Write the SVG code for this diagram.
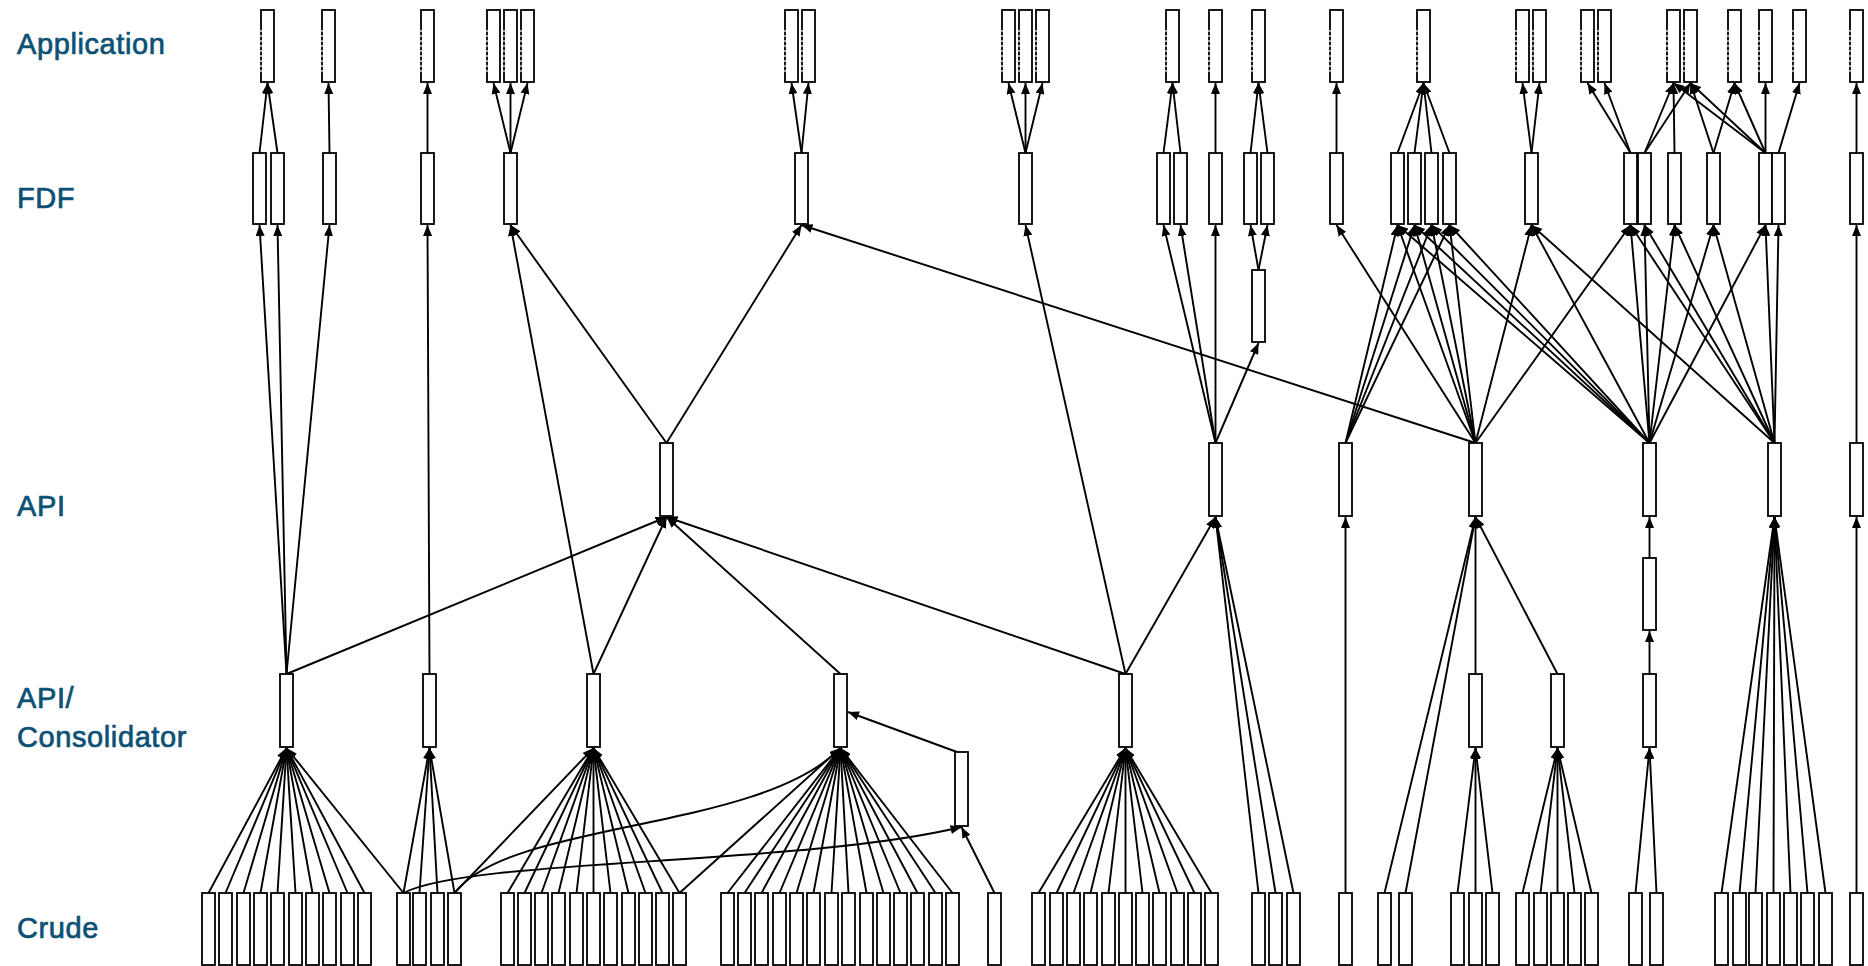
<svg xmlns="http://www.w3.org/2000/svg" width="1868" height="966" viewBox="0 0 1868 966">
<style>
.lbl{font-family:"Liberation Sans",Arial,sans-serif;font-size:29px;fill:#0c5174;stroke:#0c5174;stroke-width:0.7px;letter-spacing:0.6px}
.n rect{fill:#fff;stroke:#000;stroke-width:1.8}
.n line{stroke:#fff;stroke-width:1.2;stroke-dasharray:2 3}
#connectors path{fill:none;stroke:#000;stroke-width:1.9;marker-end:url(#ah)}
</style>
<defs>
<marker id="ah" viewBox="0 0 11 9" refX="11" refY="4.5" markerWidth="11" markerHeight="9" markerUnits="userSpaceOnUse" orient="auto"><path d="M0,0 L11,4.5 L0,9 z" fill="#000"/></marker>
</defs>
<rect width="1868" height="966" fill="#fff"/>
<g id="labels">
<text class="lbl" x="17" y="54">Application</text>
<text class="lbl" x="17" y="208">FDF</text>
<text class="lbl" x="17" y="516">API</text>
<text class="lbl" x="17" y="708">API/</text>
<text class="lbl" x="17" y="747">Consolidator</text>
<text class="lbl" x="17" y="938">Crude</text>
</g>
<g id="connectors">
<path d="M259.5,153L267.5,83"/><path d="M277.5,153L267.5,83"/><path d="M329.5,153L328.5,83"/><path d="M427.5,153L427.5,83"/>
<path d="M510.5,153L493.5,83"/><path d="M510.5,153L510.5,83"/><path d="M510.5,153L527.5,83"/>
<path d="M801.5,153L791.5,83"/><path d="M801.5,153L808.5,83"/>
<path d="M1025.5,153L1008.5,83"/><path d="M1025.5,153L1025.5,83"/><path d="M1025.5,153L1042.5,83"/>
<path d="M1163.5,153L1172.5,83"/><path d="M1180.5,153L1172.5,83"/><path d="M1215.5,153L1215.5,83"/>
<path d="M1250.5,153L1258.5,83"/><path d="M1267.5,153L1258.5,83"/><path d="M1336.5,153L1336.5,83"/>
<path d="M1397.5,153L1423.5,83"/><path d="M1414.5,153L1423.5,83"/><path d="M1431.5,153L1423.5,83"/><path d="M1449.5,153L1423.5,83"/>
<path d="M1531.5,153L1522.5,83"/><path d="M1531.5,153L1539.5,83"/>
<path d="M1630.5,153L1587.5,83"/><path d="M1630.5,153L1604.5,83"/>
<path d="M1644.5,153L1673.5,83"/><path d="M1644.5,153L1690.5,83"/><path d="M1674.5,153L1673.5,83"/>
<path d="M1713.5,153L1690.5,83"/><path d="M1713.5,153L1734.5,83"/>
<path d="M1765.5,153L1673.5,83"/><path d="M1765.5,153L1690.5,83"/><path d="M1765.5,153L1734.5,83"/><path d="M1765.5,153L1765.5,83"/>
<path d="M1778.5,153L1799.5,83"/><path d="M1856.5,153L1856.5,83"/>

<path d="M286.5,674L259.5,225"/><path d="M286.5,674L277.5,225"/><path d="M286.5,674L329.5,225"/><path d="M286.5,674L666.5,517"/>
<path d="M429.5,674L427.5,225"/>
<path d="M593.5,674L510.5,225"/><path d="M593.5,674L666.5,517"/>
<path d="M666.5,443L510.5,225"/><path d="M666.5,443L801.5,225"/>
<path d="M840.5,674L666.5,517"/>
<path d="M1125.5,674L666.5,517"/><path d="M1125.5,674L1025.5,225"/><path d="M1125.5,674L1215.5,517"/>
<path d="M1215.5,443L1163.5,225"/><path d="M1215.5,443L1180.5,225"/><path d="M1215.5,443L1215.5,225"/><path d="M1215.5,443L1258.5,343"/>
<path d="M1258.5,270L1250.5,225"/><path d="M1258.5,270L1267.5,225"/>
<path d="M1345.5,443L1397.5,225"/><path d="M1345.5,443L1414.5,225"/><path d="M1345.5,443L1431.5,225"/><path d="M1345.5,443L1449.5,225"/>
<path d="M1475.5,443L801.5,225"/><path d="M1475.5,443L1336.5,225"/><path d="M1475.5,443L1397.5,225"/><path d="M1475.5,443L1414.5,225"/><path d="M1475.5,443L1431.5,225"/><path d="M1475.5,443L1449.5,225"/><path d="M1475.5,443L1531.5,225"/><path d="M1475.5,443L1630.5,225"/>
<path d="M1649.5,443L1397.5,225"/><path d="M1649.5,443L1414.5,225"/><path d="M1649.5,443L1431.5,225"/><path d="M1649.5,443L1449.5,225"/><path d="M1649.5,443L1531.5,225"/><path d="M1649.5,443L1630.5,225"/><path d="M1649.5,443L1644.5,225"/><path d="M1649.5,443L1674.5,225"/><path d="M1649.5,443L1713.5,225"/><path d="M1649.5,443L1765.5,225"/>
<path d="M1774.5,443L1531.5,225"/><path d="M1774.5,443L1630.5,225"/><path d="M1774.5,443L1644.5,225"/><path d="M1774.5,443L1674.5,225"/><path d="M1774.5,443L1713.5,225"/><path d="M1774.5,443L1765.5,225"/><path d="M1774.5,443L1778.5,225"/>
<path d="M1856.5,443L1856.5,225"/>

<path d="M208.5,893L286.5,748"/><path d="M225.5,893L286.5,748"/><path d="M243.5,893L286.5,748"/><path d="M260.5,893L286.5,748"/><path d="M277.5,893L286.5,748"/><path d="M295.5,893L286.5,748"/><path d="M312.5,893L286.5,748"/><path d="M329.5,893L286.5,748"/><path d="M347.5,893L286.5,748"/><path d="M364.5,893L286.5,748"/><path d="M403.5,893L286.5,748"/>
<path d="M403.5,893L429.5,748"/><path d="M419.5,893L429.5,748"/><path d="M437.5,893L429.5,748"/><path d="M454.5,893L429.5,748"/>
<path d="M454.5,893L593.5,748"/><path d="M507.5,893L593.5,748"/><path d="M524.5,893L593.5,748"/><path d="M541.5,893L593.5,748"/><path d="M558.5,893L593.5,748"/><path d="M576.5,893L593.5,748"/><path d="M593.5,893L593.5,748"/><path d="M610.5,893L593.5,748"/><path d="M628.5,893L593.5,748"/><path d="M645.5,893L593.5,748"/><path d="M662.5,893L593.5,748"/><path d="M679.5,893L593.5,748"/>
<path d="M679.5,893L840.5,748"/><path d="M727.5,893L840.5,748"/><path d="M744.5,893L840.5,748"/><path d="M761.5,893L840.5,748"/><path d="M779.5,893L840.5,748"/><path d="M796.5,893L840.5,748"/><path d="M813.5,893L840.5,748"/><path d="M831.5,893L840.5,748"/><path d="M848.5,893L840.5,748"/><path d="M866.5,893L840.5,748"/><path d="M883.5,893L840.5,748"/><path d="M900.5,893L840.5,748"/><path d="M917.5,893L840.5,748"/><path d="M935.5,893L840.5,748"/><path d="M952.5,893L840.5,748"/>
<path d="M454.5,893C510,820 760,832 840.5,748"/>
<path d="M403.5,893C470,858 800,866 961.5,827"/>
<path d="M994.5,893L961.5,827"/>
<path d="M957,752L848,712"/>
<path d="M1038.5,893L1125.5,748"/><path d="M1056.5,893L1125.5,748"/><path d="M1073.5,893L1125.5,748"/><path d="M1090.5,893L1125.5,748"/><path d="M1108.5,893L1125.5,748"/><path d="M1125.5,893L1125.5,748"/><path d="M1142.5,893L1125.5,748"/><path d="M1159.5,893L1125.5,748"/><path d="M1177.5,893L1125.5,748"/><path d="M1194.5,893L1125.5,748"/><path d="M1211.5,893L1125.5,748"/>
<path d="M1258.5,893L1215.5,517"/><path d="M1275.5,893L1215.5,517"/><path d="M1293.5,893L1215.5,517"/>
<path d="M1345.5,893L1345.5,517"/>
<path d="M1384.5,893L1475.5,517"/><path d="M1405.5,893L1475.5,517"/><path d="M1475.5,674L1475.5,517"/><path d="M1557.5,674L1475.5,517"/>
<path d="M1457.5,893L1475.5,748"/><path d="M1475.5,893L1475.5,748"/><path d="M1492.5,893L1475.5,748"/>
<path d="M1522.5,893L1557.5,748"/><path d="M1540.5,893L1557.5,748"/><path d="M1557.5,893L1557.5,748"/><path d="M1574.5,893L1557.5,748"/><path d="M1591.5,893L1557.5,748"/>
<path d="M1635.5,893L1649.5,748"/><path d="M1656.5,893L1649.5,748"/>
<path d="M1649.5,674L1649.5,631"/><path d="M1649.5,558L1649.5,517"/>
<path d="M1721.5,893L1774.5,517"/><path d="M1739.5,893L1774.5,517"/><path d="M1755.5,893L1774.5,517"/><path d="M1773.5,893L1774.5,517"/><path d="M1790.5,893L1774.5,517"/><path d="M1807.5,893L1774.5,517"/><path d="M1825.5,893L1774.5,517"/>
<path d="M1856.5,893L1856.5,517"/>
</g>
<g id="nodes" class="n">
<g id="app1"><rect x="261" y="10" width="13" height="72"/><line x1="261" y1="30" x2="261" y2="72"/></g>
<g id="app2"><rect x="322" y="10" width="13" height="72"/><line x1="322" y1="30" x2="322" y2="72"/></g>
<g id="app3"><rect x="421" y="10" width="13" height="72"/><line x1="421" y1="30" x2="421" y2="72"/></g>
<g id="app4"><rect x="487" y="10" width="13" height="72"/><line x1="487" y1="30" x2="487" y2="72"/></g>
<g id="app5"><rect x="504" y="10" width="13" height="72"/><line x1="504" y1="30" x2="504" y2="72"/></g>
<g id="app6"><rect x="521" y="10" width="13" height="72"/><line x1="521" y1="30" x2="521" y2="72"/></g>
<g id="app7"><rect x="785" y="10" width="13" height="72"/><line x1="785" y1="30" x2="785" y2="72"/></g>
<g id="app8"><rect x="802" y="10" width="13" height="72"/><line x1="802" y1="30" x2="802" y2="72"/></g>
<g id="app9"><rect x="1002" y="10" width="13" height="72"/><line x1="1002" y1="30" x2="1002" y2="72"/></g>
<g id="app10"><rect x="1019" y="10" width="13" height="72"/><line x1="1019" y1="30" x2="1019" y2="72"/></g>
<g id="app11"><rect x="1036" y="10" width="13" height="72"/><line x1="1036" y1="30" x2="1036" y2="72"/></g>
<g id="app12"><rect x="1166" y="10" width="13" height="72"/><line x1="1166" y1="30" x2="1166" y2="72"/></g>
<g id="app13"><rect x="1209" y="10" width="13" height="72"/><line x1="1209" y1="30" x2="1209" y2="72"/></g>
<g id="app14"><rect x="1252" y="10" width="13" height="72"/><line x1="1252" y1="30" x2="1252" y2="72"/></g>
<g id="app15"><rect x="1330" y="10" width="13" height="72"/><line x1="1330" y1="30" x2="1330" y2="72"/></g>
<g id="app16"><rect x="1417" y="10" width="13" height="72"/><line x1="1417" y1="30" x2="1417" y2="72"/></g>
<g id="app17"><rect x="1516" y="10" width="13" height="72"/><line x1="1516" y1="30" x2="1516" y2="72"/></g>
<g id="app18"><rect x="1533" y="10" width="13" height="72"/><line x1="1533" y1="30" x2="1533" y2="72"/></g>
<g id="app19"><rect x="1581" y="10" width="13" height="72"/><line x1="1581" y1="30" x2="1581" y2="72"/></g>
<g id="app20"><rect x="1598" y="10" width="13" height="72"/><line x1="1598" y1="30" x2="1598" y2="72"/></g>
<g id="app21"><rect x="1667" y="10" width="13" height="72"/><line x1="1667" y1="30" x2="1667" y2="72"/></g>
<g id="app22"><rect x="1684" y="10" width="13" height="72"/><line x1="1684" y1="30" x2="1684" y2="72"/></g>
<g id="app23"><rect x="1728" y="10" width="13" height="72"/><line x1="1728" y1="30" x2="1728" y2="72"/></g>
<g id="app24"><rect x="1759" y="10" width="13" height="72"/><line x1="1759" y1="30" x2="1759" y2="72"/></g>
<g id="app25"><rect x="1793" y="10" width="13" height="72"/><line x1="1793" y1="30" x2="1793" y2="72"/></g>
<g id="app26"><rect x="1850" y="10" width="13" height="72"/><line x1="1850" y1="30" x2="1850" y2="72"/></g>

<g id="fdf1"><rect x="253" y="153" width="13" height="71"/></g>
<g id="fdf2"><rect x="271" y="153" width="13" height="71"/></g>
<g id="fdf3"><rect x="323" y="153" width="13" height="71"/></g>
<g id="fdf4"><rect x="421" y="153" width="13" height="71"/></g>
<g id="fdf5"><rect x="504" y="153" width="13" height="71"/></g>
<g id="fdf6"><rect x="795" y="153" width="13" height="71"/></g>
<g id="fdf7"><rect x="1019" y="153" width="13" height="71"/></g>
<g id="fdf8"><rect x="1157" y="153" width="13" height="71"/></g>
<g id="fdf9"><rect x="1174" y="153" width="13" height="71"/></g>
<g id="fdf10"><rect x="1209" y="153" width="13" height="71"/></g>
<g id="fdf11"><rect x="1244" y="153" width="13" height="71"/></g>
<g id="fdf12"><rect x="1261" y="153" width="13" height="71"/></g>
<g id="fdf13"><rect x="1330" y="153" width="13" height="71"/></g>
<g id="fdf14"><rect x="1391" y="153" width="13" height="71"/></g>
<g id="fdf15"><rect x="1408" y="153" width="13" height="71"/></g>
<g id="fdf16"><rect x="1425" y="153" width="13" height="71"/></g>
<g id="fdf17"><rect x="1443" y="153" width="13" height="71"/></g>
<g id="fdf18"><rect x="1525" y="153" width="13" height="71"/></g>
<g id="fdf19"><rect x="1624" y="153" width="13" height="71"/></g>
<g id="fdf20"><rect x="1638" y="153" width="13" height="71"/></g>
<g id="fdf21"><rect x="1668" y="153" width="13" height="71"/></g>
<g id="fdf22"><rect x="1707" y="153" width="13" height="71"/></g>
<g id="fdf23"><rect x="1759" y="153" width="13" height="71"/></g>
<g id="fdf24"><rect x="1772" y="153" width="13" height="71"/></g>
<g id="fdf25"><rect x="1850" y="153" width="13" height="71"/></g>
<g id="fdf-x"><rect x="1252" y="270" width="13" height="72"/></g>

<g id="api1"><rect x="660" y="443" width="13" height="73"/></g>
<g id="api2"><rect x="1209" y="443" width="13" height="73"/></g>
<g id="api3"><rect x="1339" y="443" width="13" height="73"/></g>
<g id="api4"><rect x="1469" y="443" width="13" height="73"/></g>
<g id="api5"><rect x="1643" y="443" width="13" height="73"/></g>
<g id="api6"><rect x="1768" y="443" width="13" height="73"/></g>
<g id="api7"><rect x="1850" y="443" width="13" height="73"/></g>
<g id="api-x"><rect x="1643" y="558" width="13" height="72"/></g>

<g id="cons1"><rect x="280" y="674" width="13" height="73"/></g>
<g id="cons2"><rect x="423" y="674" width="13" height="73"/></g>
<g id="cons3"><rect x="587" y="674" width="13" height="73"/></g>
<g id="cons4"><rect x="834" y="674" width="13" height="73"/></g>
<g id="cons5"><rect x="1119" y="674" width="13" height="73"/></g>
<g id="cons6"><rect x="1469" y="674" width="13" height="73"/></g>
<g id="cons7"><rect x="1551" y="674" width="13" height="73"/></g>
<g id="cons8"><rect x="1643" y="674" width="13" height="73"/></g>
<g id="cons-x"><rect x="955" y="752" width="13" height="74"/></g>

<g id="crude1"><rect x="202" y="893" width="13" height="72"/></g>
<g id="crude2"><rect x="219" y="893" width="13" height="72"/></g>
<g id="crude3"><rect x="237" y="893" width="13" height="72"/></g>
<g id="crude4"><rect x="254" y="893" width="13" height="72"/></g>
<g id="crude5"><rect x="271" y="893" width="13" height="72"/></g>
<g id="crude6"><rect x="289" y="893" width="13" height="72"/></g>
<g id="crude7"><rect x="306" y="893" width="13" height="72"/></g>
<g id="crude8"><rect x="323" y="893" width="13" height="72"/></g>
<g id="crude9"><rect x="341" y="893" width="13" height="72"/></g>
<g id="crude10"><rect x="358" y="893" width="13" height="72"/></g>
<g id="crude11"><rect x="397" y="893" width="13" height="72"/></g>
<g id="crude12"><rect x="413" y="893" width="13" height="72"/></g>
<g id="crude13"><rect x="431" y="893" width="13" height="72"/></g>
<g id="crude14"><rect x="448" y="893" width="13" height="72"/></g>
<g id="crude15"><rect x="501" y="893" width="13" height="72"/></g>
<g id="crude16"><rect x="518" y="893" width="13" height="72"/></g>
<g id="crude17"><rect x="535" y="893" width="13" height="72"/></g>
<g id="crude18"><rect x="552" y="893" width="13" height="72"/></g>
<g id="crude19"><rect x="570" y="893" width="13" height="72"/></g>
<g id="crude20"><rect x="587" y="893" width="13" height="72"/></g>
<g id="crude21"><rect x="604" y="893" width="13" height="72"/></g>
<g id="crude22"><rect x="622" y="893" width="13" height="72"/></g>
<g id="crude23"><rect x="639" y="893" width="13" height="72"/></g>
<g id="crude24"><rect x="656" y="893" width="13" height="72"/></g>
<g id="crude25"><rect x="673" y="893" width="13" height="72"/></g>
<g id="crude26"><rect x="721" y="893" width="13" height="72"/></g>
<g id="crude27"><rect x="738" y="893" width="13" height="72"/></g>
<g id="crude28"><rect x="755" y="893" width="13" height="72"/></g>
<g id="crude29"><rect x="773" y="893" width="13" height="72"/></g>
<g id="crude30"><rect x="790" y="893" width="13" height="72"/></g>
<g id="crude31"><rect x="807" y="893" width="13" height="72"/></g>
<g id="crude32"><rect x="825" y="893" width="13" height="72"/></g>
<g id="crude33"><rect x="842" y="893" width="13" height="72"/></g>
<g id="crude34"><rect x="860" y="893" width="13" height="72"/></g>
<g id="crude35"><rect x="877" y="893" width="13" height="72"/></g>
<g id="crude36"><rect x="894" y="893" width="13" height="72"/></g>
<g id="crude37"><rect x="911" y="893" width="13" height="72"/></g>
<g id="crude38"><rect x="929" y="893" width="13" height="72"/></g>
<g id="crude39"><rect x="946" y="893" width="13" height="72"/></g>
<g id="crude40"><rect x="988" y="893" width="13" height="72"/></g>
<g id="crude41"><rect x="1032" y="893" width="13" height="72"/></g>
<g id="crude42"><rect x="1050" y="893" width="13" height="72"/></g>
<g id="crude43"><rect x="1067" y="893" width="13" height="72"/></g>
<g id="crude44"><rect x="1084" y="893" width="13" height="72"/></g>
<g id="crude45"><rect x="1102" y="893" width="13" height="72"/></g>
<g id="crude46"><rect x="1119" y="893" width="13" height="72"/></g>
<g id="crude47"><rect x="1136" y="893" width="13" height="72"/></g>
<g id="crude48"><rect x="1153" y="893" width="13" height="72"/></g>
<g id="crude49"><rect x="1171" y="893" width="13" height="72"/></g>
<g id="crude50"><rect x="1188" y="893" width="13" height="72"/></g>
<g id="crude51"><rect x="1205" y="893" width="13" height="72"/></g>
<g id="crude52"><rect x="1252" y="893" width="13" height="72"/></g>
<g id="crude53"><rect x="1269" y="893" width="13" height="72"/></g>
<g id="crude54"><rect x="1287" y="893" width="13" height="72"/></g>
<g id="crude55"><rect x="1339" y="893" width="13" height="72"/></g>
<g id="crude56"><rect x="1378" y="893" width="13" height="72"/></g>
<g id="crude57"><rect x="1399" y="893" width="13" height="72"/></g>
<g id="crude58"><rect x="1451" y="893" width="13" height="72"/></g>
<g id="crude59"><rect x="1469" y="893" width="13" height="72"/></g>
<g id="crude60"><rect x="1486" y="893" width="13" height="72"/></g>
<g id="crude61"><rect x="1516" y="893" width="13" height="72"/></g>
<g id="crude62"><rect x="1534" y="893" width="13" height="72"/></g>
<g id="crude63"><rect x="1551" y="893" width="13" height="72"/></g>
<g id="crude64"><rect x="1568" y="893" width="13" height="72"/></g>
<g id="crude65"><rect x="1585" y="893" width="13" height="72"/></g>
<g id="crude66"><rect x="1629" y="893" width="13" height="72"/></g>
<g id="crude67"><rect x="1650" y="893" width="13" height="72"/></g>
<g id="crude68"><rect x="1715" y="893" width="13" height="72"/></g>
<g id="crude69"><rect x="1733" y="893" width="13" height="72"/></g>
<g id="crude70"><rect x="1749" y="893" width="13" height="72"/></g>
<g id="crude71"><rect x="1767" y="893" width="13" height="72"/></g>
<g id="crude72"><rect x="1784" y="893" width="13" height="72"/></g>
<g id="crude73"><rect x="1801" y="893" width="13" height="72"/></g>
<g id="crude74"><rect x="1819" y="893" width="13" height="72"/></g>
<g id="crude75"><rect x="1850" y="893" width="13" height="72"/></g>
</g>
</svg>
